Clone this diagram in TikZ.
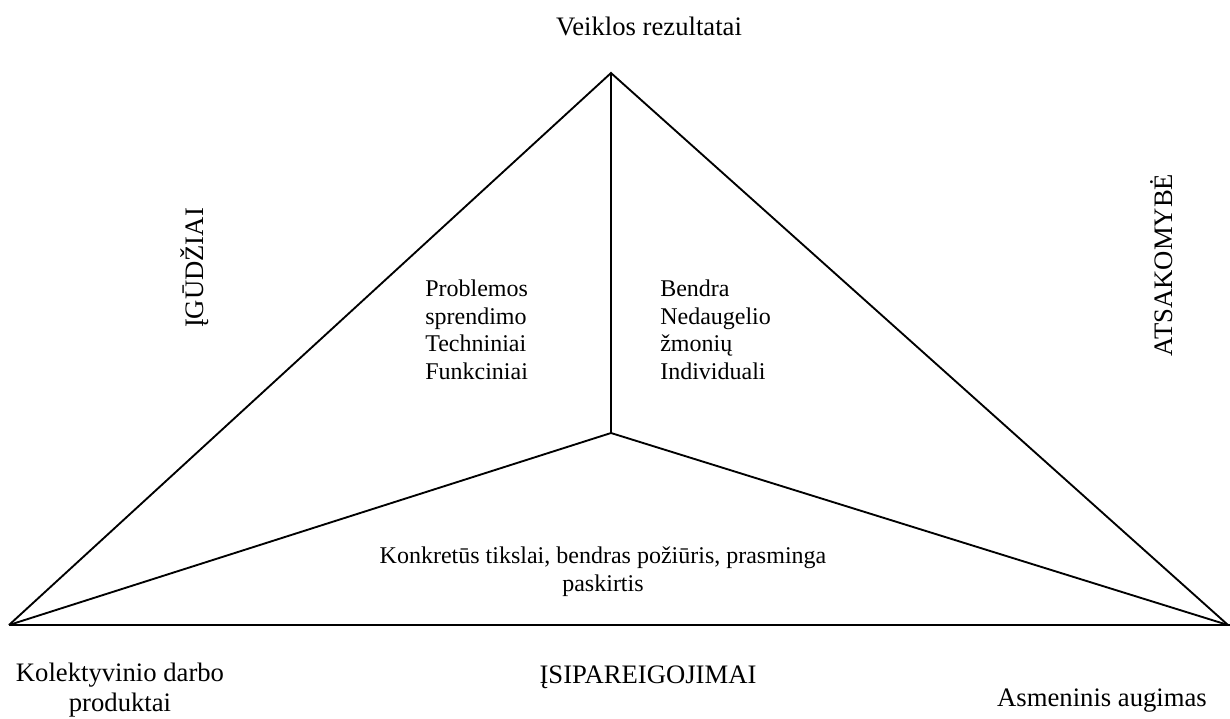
\documentclass[tikz,border=0pt]{standalone}
\usepackage{fontspec}
\setmainfont{Liberation Serif}
\begin{document}
\begin{tikzpicture}[x=0.75pt,y=-0.75pt,
  edge/.style={line width=1.4pt, line join=miter},
  big/.style={font=\fontsize{20}{22}\selectfont, inner sep=0pt, align=center},
  small/.style={font=\fontsize{18}{20.6}\selectfont, inner sep=0pt},
  blk/.style={small, align=left},
  ctr/.style={small, align=center}]
\useasboundingbox (0,0) rectangle (1230,718);
\coordinate (A) at (611,73);
\coordinate (L) at (9,625);
\coordinate (R) at (1228,625);
\coordinate (C) at (611,433);
\coordinate (E) at (1230,625);
\draw[edge] (L) -- (A) -- (R);
\draw[edge] (L) -- (E);
\draw[edge] (A) -- (C);
\draw[edge] (L) -- (C) -- (R);
\node[big, anchor=base] (top) at (649,35) {Veiklos rezultatai};
\node[big, rotate=90, anchor=base] (igu) at (203,268) {ĮGŪDŽIAI};
\node[big, rotate=90, anchor=base] (ats) at (1172,265) {ATSAKOMYBĖ};
\node[blk, anchor=base west] (prob) at (425,379) {Problemos\\sprendimo\\Techniniai\\Funkciniai};
\node[blk, anchor=base west] (bend) at (660,379) {Bendra\\Nedaugelio\\žmonių\\Individuali};
\node[ctr, anchor=base] (konk) at (603,591) {Konkretūs tikslai, bendras požiūris, prasminga\\paskirtis};
\node[big, anchor=base] (isip) at (648,683) {ĮSIPAREIGOJIMAI};
\node[big, anchor=base] (kol) at (120,711) {Kolektyvinio darbo\\produktai};
\node[big, anchor=base] (asm) at (1102,706) {Asmeninis augimas};
\end{tikzpicture}
\end{document}
